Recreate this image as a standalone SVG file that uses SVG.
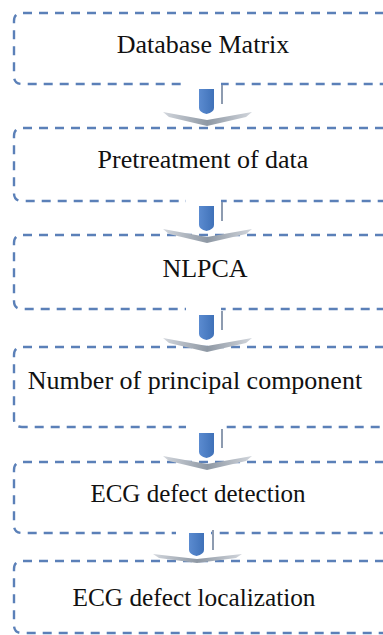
<svg xmlns="http://www.w3.org/2000/svg" width="383" height="635" viewBox="0 0 383 635">
  <style>
    .box { fill: none; stroke: #5b80b8; stroke-width: 2.4; stroke-dasharray: 9 7; }
    .label { font-family: "Liberation Serif", "Times New Roman", serif; font-size: 26px; fill: #111; text-anchor: middle; }
    .stub { stroke: #8d9bb0; stroke-width: 2; }
  </style>
  <defs>
    <linearGradient id="chev" x1="0" y1="0" x2="1" y2="0">
      <stop offset="0" stop-color="#d2d6dc"/>
      <stop offset="0.5" stop-color="#8e98a4"/>
      <stop offset="1" stop-color="#d2d6dc"/>
    </linearGradient>
    <linearGradient id="blk" x1="0" y1="0" x2="1" y2="0">
      <stop offset="0" stop-color="#5b8bd0"/>
      <stop offset="1" stop-color="#3f71b8"/>
    </linearGradient>
    <!-- down arrow: white backing, grey stub, blue block, grey chevron -->
    <g id="arrow">
      <rect x="186" y="-8" width="35" height="12" fill="#fff"/>
      <line class="stub" x1="222" y1="-4" x2="222" y2="15"/>
      <path d="M199,0 H214 V19 Q214,23 206.5,25 Q199,23 199,19 Z" fill="url(#blk)"/>
      <path d="M163,23 L207,31 L252,23 L246,28 L207,37 L169,28 Z" fill="url(#chev)"/>
    </g>
  </defs>

  <g id="node-database-matrix">
    <path class="box" d="M400,13 H22 Q14,13 14,21 V76 Q14,84 22,84 H400"/>
    <text class="label" x="203" y="53">Database Matrix</text>
  </g>
  <g id="node-pretreatment">
    <path class="box" d="M400,128 H22 Q14,128 14,136 V193 Q14,201 22,201 H400"/>
    <text class="label" x="203" y="168">Pretreatment of data</text>
  </g>
  <g id="node-nlpca">
    <path class="box" d="M400,235 H22 Q14,235 14,243 V301 Q14,309 22,309 H400"/>
    <text class="label" x="205" y="277">NLPCA</text>
  </g>
  <g id="node-principal-components">
    <path class="box" d="M400,347 H22 Q14,347 14,355 V419 Q14,427 22,427 H400"/>
    <text class="label" x="195" y="389">Number of principal component</text>
  </g>
  <g id="node-defect-detection">
    <path class="box" d="M400,462 H22 Q14,462 14,470 V525 Q14,533 22,533 H400"/>
    <text class="label" x="198" y="502" style="font-size:25px">ECG defect detection</text>
  </g>
  <g id="node-defect-localization">
    <path class="box" d="M400,561 H22 Q14,561 14,569 V625 Q14,633 22,633 H400"/>
    <text class="label" x="194" y="606" style="font-size:25.3px">ECG defect localization</text>
  </g>

  <g id="connectors">
    <use href="#arrow" transform="translate(0,89)"/>
    <use href="#arrow" transform="translate(0,206)"/>
    <use href="#arrow" transform="translate(0,315)"/>
    <use href="#arrow" transform="translate(0,433)"/>
    <!-- last arrow: shifted left and flattened -->
    <g transform="translate(-10,0)">
      <rect x="186" y="527" width="35" height="10" fill="#fff"/>
      <line class="stub" x1="223" y1="530" x2="223" y2="550"/>
      <path d="M199,533 H214 V550 Q214,554 206.5,556 Q199,554 199,550 Z" fill="url(#blk)"/>
      <path d="M163,554 L207,559 L252,554 L246,558 L207,563 L169,558 Z" fill="url(#chev)"/>
    </g>
  </g>
</svg>
